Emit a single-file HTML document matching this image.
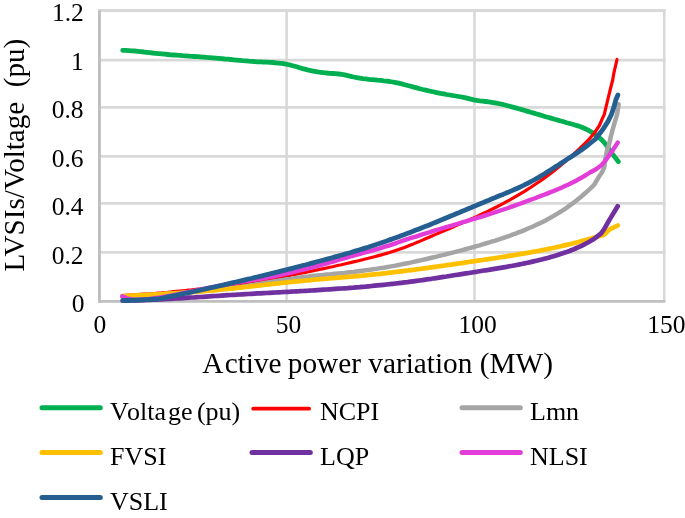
<!DOCTYPE html>
<html><head><meta charset="utf-8"><style>
html,body{margin:0;padding:0;background:#fff;}
body{width:685px;height:518px;overflow:hidden;}
svg{display:block;will-change:transform;}
text{font-family:"Liberation Serif",serif;fill:#000;}
</style></head><body>
<svg width="685" height="518" viewBox="0 0 685 518">
<rect width="685" height="518" fill="#fff"/>

<line x1="98" y1="10.5" x2="665.5" y2="10.5" stroke="#D9D9D9" stroke-width="2.8"/>
<line x1="98" y1="60.15" x2="665.5" y2="60.15" stroke="#D9D9D9" stroke-width="2.8"/>
<line x1="98" y1="107.4" x2="665.5" y2="107.4" stroke="#D9D9D9" stroke-width="2.8"/>
<line x1="98" y1="156.45" x2="665.5" y2="156.45" stroke="#D9D9D9" stroke-width="2.8"/>
<line x1="98" y1="203.35" x2="665.5" y2="203.35" stroke="#D9D9D9" stroke-width="2.8"/>
<line x1="98" y1="252.45" x2="665.5" y2="252.45" stroke="#D9D9D9" stroke-width="2.8"/>
<line x1="286.6" y1="9" x2="286.6" y2="300" stroke="#D9D9D9" stroke-width="2.6"/>
<line x1="474.5" y1="9" x2="474.5" y2="300" stroke="#D9D9D9" stroke-width="2.6"/>
<line x1="664.25" y1="9" x2="664.25" y2="300" stroke="#D9D9D9" stroke-width="2.6"/>
<line x1="99.45" y1="10.6" x2="99.45" y2="302.7" stroke="#BFBFBF" stroke-width="2.9"/>
<line x1="98" y1="301.35" x2="665.5" y2="301.35" stroke="#BFBFBF" stroke-width="2.8"/>
<path d="M122.7,50.3 L125.7,50.4 L128.7,50.6 L131.7,50.8 L134.7,51.0 L137.7,51.3 L140.7,51.6 L143.7,52.0 L146.7,52.3 L149.7,52.6 L152.7,53.0 L155.7,53.3 L158.7,53.6 L161.7,53.9 L164.7,54.2 L167.7,54.5 L170.7,54.8 L173.7,55.0 L176.7,55.2 L179.7,55.4 L182.7,55.7 L185.7,55.9 L188.7,56.1 L191.7,56.3 L194.7,56.5 L197.7,56.7 L200.7,56.9 L203.7,57.1 L206.7,57.4 L209.7,57.6 L212.7,57.8 L215.7,58.1 L218.7,58.4 L221.7,58.7 L224.7,59.0 L227.7,59.2 L230.7,59.5 L233.7,59.8 L236.7,60.1 L239.7,60.4 L242.7,60.7 L245.7,60.9 L248.7,61.2 L251.7,61.4 L254.7,61.6 L257.7,61.8 L260.7,61.9 L263.7,62.1 L266.7,62.2 L269.7,62.4 L272.7,62.5 L275.7,62.8 L278.7,63.1 L281.7,63.4 L284.7,63.9 L287.7,64.5 L290.7,65.2 L293.7,66.0 L296.7,66.8 L299.7,67.7 L302.7,68.6 L305.7,69.4 L308.7,70.2 L311.7,70.8 L314.7,71.4 L317.7,71.9 L320.7,72.3 L323.7,72.7 L326.7,73.0 L329.7,73.3 L332.7,73.5 L335.7,73.7 L338.7,74.0 L341.7,74.4 L344.7,74.9 L347.7,75.6 L350.7,76.3 L353.7,77.0 L356.7,77.6 L359.7,78.1 L362.7,78.6 L365.7,78.9 L368.7,79.3 L371.7,79.6 L374.7,79.9 L377.7,80.2 L380.7,80.4 L383.7,80.8 L386.7,81.1 L389.7,81.5 L392.7,82.0 L395.7,82.6 L398.7,83.2 L401.7,83.9 L404.7,84.7 L407.7,85.5 L410.7,86.3 L413.7,87.1 L416.7,87.9 L419.7,88.7 L422.7,89.5 L425.7,90.2 L428.7,90.9 L431.7,91.5 L434.7,92.2 L437.7,92.8 L440.7,93.4 L443.7,93.9 L446.7,94.5 L449.7,95.0 L452.7,95.5 L455.7,96.0 L458.7,96.5 L461.7,97.0 L464.7,97.7 L467.7,98.4 L470.7,99.1 L473.7,99.8 L476.7,100.4 L479.7,100.9 L482.7,101.2 L485.7,101.5 L488.7,101.9 L491.7,102.3 L494.7,102.8 L497.7,103.4 L500.7,104.0 L503.7,104.7 L506.7,105.5 L509.7,106.3 L512.7,107.1 L515.7,107.9 L518.7,108.8 L521.7,109.6 L524.7,110.5 L527.7,111.4 L530.7,112.3 L533.7,113.1 L536.7,114.0 L539.7,114.9 L542.7,115.8 L545.7,116.7 L548.7,117.5 L551.7,118.4 L554.7,119.3 L557.7,120.1 L560.7,121.0 L563.7,121.8 L566.7,122.7 L569.7,123.5 L572.7,124.3 L575.7,125.2 L578.7,126.1 L581.7,127.2 L584.7,128.5 L587.7,129.9 L590.7,131.6 L593.7,133.5 L596.7,135.7 L598.5,137.2 L601.5,139.6 L605.4,143.8 L612.6,154.1 L618.3,161.6" fill="none" stroke="#00B050" stroke-width="4.8" stroke-linejoin="round" stroke-linecap="round"/>
<path d="M122.5,295.6 L125.5,295.4 L128.5,295.2 L131.5,295.0 L134.5,294.8 L137.5,294.6 L140.5,294.4 L143.5,294.2 L146.5,294.0 L149.5,293.8 L152.5,293.5 L155.5,293.3 L158.5,293.0 L161.5,292.8 L164.5,292.5 L167.5,292.3 L170.5,292.0 L173.5,291.7 L176.5,291.4 L179.5,291.1 L182.5,290.8 L185.5,290.5 L188.5,290.2 L191.5,289.9 L194.5,289.5 L197.5,289.2 L200.5,288.9 L203.5,288.5 L206.5,288.2 L209.5,287.8 L212.5,287.4 L215.5,287.1 L218.5,286.7 L221.5,286.3 L224.5,285.9 L227.5,285.5 L230.5,285.1 L233.5,284.6 L236.5,284.2 L239.5,283.8 L242.5,283.3 L245.5,282.9 L248.5,282.4 L251.5,282.0 L254.5,281.5 L257.5,281.0 L260.5,280.5 L263.5,280.0 L266.5,279.5 L269.5,279.0 L272.5,278.5 L275.5,278.0 L278.5,277.5 L281.5,276.9 L284.5,276.4 L287.5,275.8 L290.5,275.3 L293.5,274.7 L296.5,274.1 L299.5,273.5 L302.5,273.0 L305.5,272.4 L308.5,271.8 L311.5,271.1 L314.5,270.5 L317.5,269.9 L320.5,269.3 L323.5,268.6 L326.5,268.0 L329.5,267.3 L332.5,266.7 L335.5,266.0 L338.5,265.3 L341.5,264.7 L344.5,264.0 L347.5,263.3 L350.5,262.6 L353.5,261.9 L356.5,261.2 L359.5,260.5 L362.5,259.7 L365.5,259.0 L368.5,258.3 L371.5,257.5 L374.5,256.7 L377.5,255.9 L380.5,255.1 L383.5,254.2 L386.5,253.4 L389.5,252.5 L392.5,251.5 L395.5,250.6 L398.5,249.6 L401.5,248.5 L404.5,247.4 L407.5,246.3 L410.5,245.1 L413.5,243.9 L416.5,242.6 L419.5,241.4 L422.5,240.1 L425.5,238.8 L428.5,237.5 L431.5,236.2 L434.5,234.9 L437.5,233.6 L440.5,232.3 L443.5,231.1 L446.5,229.8 L449.5,228.5 L452.5,227.2 L455.5,225.9 L458.5,224.6 L461.5,223.3 L464.5,222.0 L467.5,220.7 L470.5,219.3 L473.5,218.0 L476.5,216.6 L479.5,215.2 L482.5,213.8 L485.5,212.4 L488.5,211.0 L491.5,209.5 L494.5,208.0 L497.5,206.5 L500.5,204.9 L503.5,203.3 L506.5,201.7 L509.5,200.1 L512.5,198.4 L515.5,196.7 L518.5,194.9 L521.5,193.1 L524.5,191.3 L527.5,189.4 L530.5,187.5 L533.5,185.5 L536.5,183.5 L539.5,181.5 L542.5,179.4 L545.5,177.2 L548.5,175.0 L551.5,172.7 L554.5,170.4 L557.5,168.0 L560.5,165.5 L563.5,163.0 L566.5,160.4 L569.5,157.8 L572.5,155.1 L575.5,152.4 L578.5,149.6 L581.5,146.7 L584.5,143.8 L587.5,140.8 L588.6,139.7 L594.4,133.0 L599.4,125.5 L602.0,119.4 L604.3,114.3 L606.0,107.1 L607.7,100.0 L610.4,89.0 L612.7,80.0 L613.8,73.4 L617.0,59.5" fill="none" stroke="#FF0000" stroke-width="3.2" stroke-linejoin="round" stroke-linecap="round"/>
<path d="M122.5,296.6 L125.5,296.5 L128.5,296.3 L131.5,296.2 L134.5,296.0 L137.5,295.8 L140.5,295.6 L143.5,295.5 L146.5,295.3 L149.5,295.1 L152.5,294.9 L155.5,294.7 L158.5,294.5 L161.5,294.3 L164.5,294.1 L167.5,293.8 L170.5,293.6 L173.5,293.4 L176.5,293.2 L179.5,293.0 L182.5,292.7 L185.5,292.5 L188.5,292.3 L191.5,292.0 L194.5,291.8 L197.5,291.5 L200.5,291.3 L203.5,291.0 L206.5,290.8 L209.5,290.5 L212.5,290.2 L215.5,289.9 L218.5,289.6 L221.5,289.3 L224.5,289.0 L227.5,288.6 L230.5,288.3 L233.5,287.9 L236.5,287.5 L239.5,287.1 L242.5,286.6 L245.5,286.2 L248.5,285.7 L251.5,285.2 L254.5,284.8 L257.5,284.3 L260.5,283.8 L263.5,283.3 L266.5,282.8 L269.5,282.3 L272.5,281.8 L275.5,281.3 L278.5,280.8 L281.5,280.3 L284.5,279.8 L287.5,279.3 L290.5,278.9 L293.5,278.4 L296.5,278.0 L299.5,277.6 L302.5,277.2 L305.5,276.8 L308.5,276.5 L311.5,276.1 L314.5,275.8 L317.5,275.5 L320.5,275.2 L323.5,274.9 L326.5,274.6 L329.5,274.4 L332.5,274.1 L335.5,273.8 L338.5,273.5 L341.5,273.2 L344.5,272.9 L347.5,272.5 L350.5,272.2 L353.5,271.9 L356.5,271.5 L359.5,271.1 L362.5,270.7 L365.5,270.3 L368.5,269.9 L371.5,269.5 L374.5,269.1 L377.5,268.6 L380.5,268.1 L383.5,267.7 L386.5,267.2 L389.5,266.6 L392.5,266.1 L395.5,265.6 L398.5,265.0 L401.5,264.4 L404.5,263.8 L407.5,263.2 L410.5,262.6 L413.5,261.9 L416.5,261.3 L419.5,260.6 L422.5,259.9 L425.5,259.2 L428.5,258.5 L431.5,257.8 L434.5,257.1 L437.5,256.4 L440.5,255.6 L443.5,254.9 L446.5,254.2 L449.5,253.4 L452.5,252.6 L455.5,251.9 L458.5,251.1 L461.5,250.3 L464.5,249.5 L467.5,248.6 L470.5,247.8 L473.5,247.0 L476.5,246.1 L479.5,245.3 L482.5,244.4 L485.5,243.5 L488.5,242.6 L491.5,241.7 L494.5,240.8 L497.5,239.8 L500.5,238.8 L503.5,237.8 L506.5,236.8 L509.5,235.8 L512.5,234.7 L515.5,233.6 L518.5,232.4 L521.5,231.3 L524.5,230.1 L527.5,228.8 L530.5,227.5 L533.5,226.2 L536.5,224.8 L539.5,223.4 L542.5,221.9 L545.5,220.4 L548.5,218.8 L551.5,217.1 L554.5,215.4 L557.5,213.6 L560.5,211.8 L563.5,209.8 L566.5,207.8 L569.5,205.7 L572.5,203.5 L575.5,201.2 L578.5,198.8 L581.5,196.4 L584.5,193.8 L587.5,191.1 L590.5,188.4 L593.5,185.5 L594.0,185.0 L599.1,176.5 L601.4,173.3 L604.3,167.5 L605.3,159.2 L606.8,151.4 L609.2,143.7 L610.7,137.0 L612.9,128.6 L615.0,121.4 L617.1,114.3 L618.6,104.3" fill="none" stroke="#A5A5A5" stroke-width="4.5" stroke-linejoin="round" stroke-linecap="round"/>
<path d="M122.5,296.2 L125.5,296.0 L128.5,295.9 L131.5,295.7 L134.5,295.6 L137.5,295.4 L140.5,295.2 L143.5,295.1 L146.5,294.9 L149.5,294.8 L152.5,294.6 L155.5,294.4 L158.5,294.3 L161.5,294.1 L164.5,293.9 L167.5,293.7 L170.5,293.5 L173.5,293.4 L176.5,293.2 L179.5,293.0 L182.5,292.8 L185.5,292.5 L188.5,292.3 L191.5,292.1 L194.5,291.9 L197.5,291.6 L200.5,291.4 L203.5,291.2 L206.5,290.9 L209.5,290.6 L212.5,290.4 L215.5,290.1 L218.5,289.8 L221.5,289.5 L224.5,289.2 L227.5,288.9 L230.5,288.6 L233.5,288.3 L236.5,288.0 L239.5,287.7 L242.5,287.3 L245.5,287.0 L248.5,286.7 L251.5,286.3 L254.5,286.0 L257.5,285.7 L260.5,285.3 L263.5,285.0 L266.5,284.7 L269.5,284.3 L272.5,284.0 L275.5,283.7 L278.5,283.3 L281.5,283.0 L284.5,282.7 L287.5,282.4 L290.5,282.0 L293.5,281.7 L296.5,281.4 L299.5,281.1 L302.5,280.8 L305.5,280.5 L308.5,280.3 L311.5,280.0 L314.5,279.7 L317.5,279.5 L320.5,279.2 L323.5,279.0 L326.5,278.7 L329.5,278.5 L332.5,278.2 L335.5,278.0 L338.5,277.7 L341.5,277.5 L344.5,277.2 L347.5,277.0 L350.5,276.7 L353.5,276.5 L356.5,276.2 L359.5,275.9 L362.5,275.6 L365.5,275.3 L368.5,275.0 L371.5,274.7 L374.5,274.4 L377.5,274.1 L380.5,273.8 L383.5,273.4 L386.5,273.1 L389.5,272.7 L392.5,272.4 L395.5,272.0 L398.5,271.7 L401.5,271.3 L404.5,270.9 L407.5,270.5 L410.5,270.2 L413.5,269.8 L416.5,269.4 L419.5,269.0 L422.5,268.6 L425.5,268.2 L428.5,267.8 L431.5,267.3 L434.5,266.9 L437.5,266.5 L440.5,266.1 L443.5,265.7 L446.5,265.2 L449.5,264.8 L452.5,264.4 L455.5,263.9 L458.5,263.5 L461.5,263.1 L464.5,262.6 L467.5,262.2 L470.5,261.7 L473.5,261.3 L476.5,260.9 L479.5,260.4 L482.5,260.0 L485.5,259.5 L488.5,259.1 L491.5,258.7 L494.5,258.2 L497.5,257.8 L500.5,257.3 L503.5,256.8 L506.5,256.4 L509.5,255.9 L512.5,255.4 L515.5,254.9 L518.5,254.4 L521.5,253.9 L524.5,253.4 L527.5,252.9 L530.5,252.4 L533.5,251.8 L536.5,251.3 L539.5,250.7 L542.5,250.1 L545.5,249.5 L548.5,248.9 L551.5,248.3 L554.5,247.7 L557.5,247.0 L560.5,246.3 L563.5,245.6 L566.5,244.9 L569.5,244.2 L572.5,243.5 L575.5,242.7 L578.5,241.9 L581.5,241.1 L584.5,240.3 L587.5,239.4 L588.3,239.2 L604.0,234.8 L609.7,229.4 L617.7,225.5" fill="none" stroke="#FFC000" stroke-width="4.7" stroke-linejoin="round" stroke-linecap="round"/>
<path d="M122.5,300.7 L125.5,300.6 L128.5,300.6 L131.5,300.5 L134.5,300.4 L137.5,300.3 L140.5,300.2 L143.5,300.1 L146.5,300.0 L149.5,299.8 L152.5,299.7 L155.5,299.6 L158.5,299.4 L161.5,299.3 L164.5,299.1 L167.5,299.0 L170.5,298.8 L173.5,298.6 L176.5,298.5 L179.5,298.3 L182.5,298.1 L185.5,297.9 L188.5,297.7 L191.5,297.5 L194.5,297.4 L197.5,297.2 L200.5,297.0 L203.5,296.8 L206.5,296.6 L209.5,296.4 L212.5,296.2 L215.5,296.0 L218.5,295.8 L221.5,295.6 L224.5,295.4 L227.5,295.2 L230.5,295.0 L233.5,294.8 L236.5,294.7 L239.5,294.5 L242.5,294.3 L245.5,294.1 L248.5,294.0 L251.5,293.8 L254.5,293.6 L257.5,293.4 L260.5,293.3 L263.5,293.1 L266.5,293.0 L269.5,292.8 L272.5,292.6 L275.5,292.5 L278.5,292.3 L281.5,292.2 L284.5,292.0 L287.5,291.8 L290.5,291.7 L293.5,291.5 L296.5,291.3 L299.5,291.2 L302.5,291.0 L305.5,290.8 L308.5,290.7 L311.5,290.5 L314.5,290.3 L317.5,290.1 L320.5,289.9 L323.5,289.7 L326.5,289.5 L329.5,289.3 L332.5,289.1 L335.5,288.9 L338.5,288.7 L341.5,288.5 L344.5,288.3 L347.5,288.1 L350.5,287.8 L353.5,287.6 L356.5,287.3 L359.5,287.1 L362.5,286.8 L365.5,286.6 L368.5,286.3 L371.5,286.0 L374.5,285.7 L377.5,285.4 L380.5,285.1 L383.5,284.8 L386.5,284.5 L389.5,284.2 L392.5,283.8 L395.5,283.5 L398.5,283.2 L401.5,282.8 L404.5,282.4 L407.5,282.1 L410.5,281.7 L413.5,281.3 L416.5,280.9 L419.5,280.5 L422.5,280.1 L425.5,279.6 L428.5,279.2 L431.5,278.8 L434.5,278.3 L437.5,277.9 L440.5,277.4 L443.5,276.9 L446.5,276.5 L449.5,276.0 L452.5,275.5 L455.5,275.0 L458.5,274.6 L461.5,274.1 L464.5,273.6 L467.5,273.2 L470.5,272.7 L473.5,272.2 L476.5,271.8 L479.5,271.3 L482.5,270.8 L485.5,270.3 L488.5,269.9 L491.5,269.4 L494.5,268.9 L497.5,268.4 L500.5,267.9 L503.5,267.4 L506.5,266.9 L509.5,266.3 L512.5,265.8 L515.5,265.2 L518.5,264.6 L521.5,264.0 L524.5,263.4 L527.5,262.8 L530.5,262.1 L533.5,261.4 L536.5,260.7 L539.5,260.0 L542.5,259.3 L545.5,258.5 L548.5,257.7 L551.5,256.8 L554.5,256.0 L557.5,255.1 L560.5,254.1 L563.5,253.1 L566.5,252.1 L569.5,251.0 L572.5,249.8 L575.5,248.5 L578.5,247.2 L581.5,245.8 L584.5,244.3 L587.5,242.7 L590.5,241.0 L593.5,239.2 L595.4,237.9 L601.1,233.4 L604.0,229.4 L609.7,219.4 L617.7,206.2" fill="none" stroke="#7030A0" stroke-width="4.7" stroke-linejoin="round" stroke-linecap="round"/>
<path d="M122.3,296.4 L127.0,298.3 L133.0,299.7 L136.0,299.7 L139.0,299.6 L142.0,299.4 L145.0,299.2 L148.0,299.0 L151.0,298.7 L154.0,298.3 L157.0,297.9 L160.0,297.5 L163.0,297.0 L166.0,296.5 L169.0,295.9 L172.0,295.4 L175.0,294.8 L178.0,294.2 L181.0,293.6 L184.0,293.0 L187.0,292.3 L190.0,291.7 L193.0,291.1 L196.0,290.5 L199.0,289.8 L202.0,289.2 L205.0,288.6 L208.0,288.0 L211.0,287.4 L214.0,286.8 L217.0,286.2 L220.0,285.7 L223.0,285.1 L226.0,284.5 L229.0,284.0 L232.0,283.5 L235.0,282.9 L238.0,282.4 L241.0,281.9 L244.0,281.4 L247.0,280.9 L250.0,280.5 L253.0,280.0 L256.0,279.5 L259.0,279.0 L262.0,278.5 L265.0,278.0 L268.0,277.4 L271.0,276.9 L274.0,276.3 L277.0,275.7 L280.0,275.0 L283.0,274.4 L286.0,273.7 L289.0,273.1 L292.0,272.4 L295.0,271.7 L298.0,270.9 L301.0,270.2 L304.0,269.5 L307.0,268.7 L310.0,267.9 L313.0,267.1 L316.0,266.3 L319.0,265.5 L322.0,264.7 L325.0,263.8 L328.0,263.0 L331.0,262.1 L334.0,261.3 L337.0,260.4 L340.0,259.5 L343.0,258.6 L346.0,257.8 L349.0,256.9 L352.0,256.0 L355.0,255.2 L358.0,254.3 L361.0,253.5 L364.0,252.7 L367.0,251.9 L370.0,251.1 L373.0,250.3 L376.0,249.4 L379.0,248.6 L382.0,247.7 L385.0,246.7 L388.0,245.8 L391.0,244.8 L394.0,243.8 L397.0,242.8 L400.0,241.7 L403.0,240.7 L406.0,239.7 L409.0,238.7 L412.0,237.7 L415.0,236.8 L418.0,235.8 L421.0,234.8 L424.0,233.9 L427.0,233.0 L430.0,232.1 L433.0,231.1 L436.0,230.2 L439.0,229.3 L442.0,228.4 L445.0,227.5 L448.0,226.7 L451.0,225.8 L454.0,224.9 L457.0,224.0 L460.0,223.1 L463.0,222.2 L466.0,221.3 L469.0,220.4 L472.0,219.5 L475.0,218.6 L478.0,217.7 L481.0,216.8 L484.0,215.8 L487.0,214.9 L490.0,213.9 L493.0,213.0 L496.0,212.0 L499.0,211.0 L502.0,210.0 L505.0,209.0 L508.0,208.0 L511.0,206.9 L514.0,205.9 L517.0,204.8 L520.0,203.7 L523.0,202.6 L526.0,201.5 L529.0,200.4 L532.0,199.3 L535.0,198.2 L538.0,197.0 L541.0,195.9 L544.0,194.8 L547.0,193.6 L550.0,192.4 L553.0,191.2 L556.0,190.0 L559.0,188.8 L562.0,187.5 L565.0,186.1 L568.0,184.7 L571.0,183.3 L574.0,181.8 L577.0,180.2 L580.0,178.5 L583.0,176.8 L586.0,175.0 L589.9,172.5 L596.0,169.2 L601.4,165.3 L605.3,160.7 L609.2,155.3 L613.0,149.9 L617.7,142.6" fill="none" stroke="#E23DD9" stroke-width="4.4" stroke-linejoin="round" stroke-linecap="round"/>
<path d="M123.2,300.5 L142.0,299.8 L158.0,299.0 L161.0,298.4 L164.0,297.8 L167.0,297.2 L170.0,296.5 L173.0,295.9 L176.0,295.3 L179.0,294.7 L182.0,294.0 L185.0,293.4 L188.0,292.8 L191.0,292.1 L194.0,291.5 L197.0,290.8 L200.0,290.2 L203.0,289.5 L206.0,288.8 L209.0,288.2 L212.0,287.5 L215.0,286.8 L218.0,286.2 L221.0,285.5 L224.0,284.8 L227.0,284.1 L230.0,283.4 L233.0,282.7 L236.0,282.0 L239.0,281.3 L242.0,280.6 L245.0,279.9 L248.0,279.2 L251.0,278.5 L254.0,277.7 L257.0,277.0 L260.0,276.3 L263.0,275.6 L266.0,274.8 L269.0,274.1 L272.0,273.3 L275.0,272.6 L278.0,271.9 L281.0,271.1 L284.0,270.3 L287.0,269.6 L290.0,268.8 L293.0,268.1 L296.0,267.3 L299.0,266.5 L302.0,265.7 L305.0,265.0 L308.0,264.2 L311.0,263.4 L314.0,262.6 L317.0,261.8 L320.0,261.0 L323.0,260.2 L326.0,259.4 L329.0,258.6 L332.0,257.8 L335.0,256.9 L338.0,256.1 L341.0,255.2 L344.0,254.4 L347.0,253.5 L350.0,252.7 L353.0,251.8 L356.0,250.9 L359.0,250.0 L362.0,249.1 L365.0,248.1 L368.0,247.2 L371.0,246.2 L374.0,245.2 L377.0,244.3 L380.0,243.3 L383.0,242.2 L386.0,241.2 L389.0,240.1 L392.0,239.1 L395.0,238.0 L398.0,236.9 L401.0,235.8 L404.0,234.7 L407.0,233.6 L410.0,232.4 L413.0,231.3 L416.0,230.1 L419.0,228.9 L422.0,227.7 L425.0,226.6 L428.0,225.4 L431.0,224.2 L434.0,222.9 L437.0,221.7 L440.0,220.5 L443.0,219.3 L446.0,218.0 L449.0,216.8 L452.0,215.6 L455.0,214.3 L458.0,213.1 L461.0,211.8 L464.0,210.6 L467.0,209.3 L470.0,208.1 L473.0,206.8 L476.0,205.6 L479.0,204.3 L482.0,203.1 L485.0,201.8 L488.0,200.6 L491.0,199.3 L494.0,198.1 L497.0,196.8 L500.0,195.6 L503.0,194.4 L506.0,193.1 L509.0,191.9 L512.0,190.6 L515.0,189.3 L518.0,188.0 L521.0,186.6 L524.0,185.2 L527.0,183.7 L530.0,182.1 L533.0,180.5 L536.0,178.8 L539.0,177.1 L542.0,175.3 L545.0,173.5 L548.0,171.6 L551.0,169.7 L554.0,167.8 L557.0,165.9 L560.0,163.9 L563.0,162.0 L566.0,160.1 L569.0,158.1 L572.0,156.2 L575.0,154.2 L578.0,152.2 L581.0,150.2 L584.0,148.0 L587.0,145.8 L588.1,145.0 L595.5,139.0 L600.5,132.6 L603.4,128.6 L608.0,121.4 L611.5,114.3 L613.9,107.1 L615.8,100.0 L617.9,95.0" fill="none" stroke="#255E91" stroke-width="4.8" stroke-linejoin="round" stroke-linecap="round"/>
<text x="83.8" y="21.35" font-size="25.5" text-anchor="end">1.2</text>
<text x="83.8" y="69.82" font-size="25.5" text-anchor="end">1</text>
<text x="83.5" y="118.29" font-size="25.5" text-anchor="end">0.8</text>
<text x="83.5" y="166.76" font-size="25.5" text-anchor="end">0.6</text>
<text x="83.5" y="215.23" font-size="25.5" text-anchor="end">0.4</text>
<text x="83.5" y="263.70" font-size="25.5" text-anchor="end">0.2</text>
<text x="84.5" y="312.17" font-size="25.5" text-anchor="end">0</text>
<text x="99.9" y="332.5" font-size="25.5" text-anchor="middle">0</text>
<text x="288.4" y="332.5" font-size="25.5" text-anchor="middle">50</text>
<text x="477.6" y="332.5" font-size="25.5" text-anchor="middle">100</text>
<text x="666.4" y="332.5" font-size="25.5" text-anchor="middle">150</text>
<text x="202.3" y="372.8" font-size="29.3" xml:space="preserve">A<tspan dx="1.2">ctive</tspan><tspan dx="-1.2"> power variation (MW)</tspan></text>
<text transform="translate(23.6,271.5) rotate(-90)" font-size="29.1" xml:space="preserve">LVSIs/Voltage  (pu)</text>
<line x1="42" y1="407.7" x2="100.3" y2="407.7" stroke="#00B050" stroke-width="5" stroke-linecap="round"/>
<text x="110" y="420.0" font-size="26" xml:space="preserve">V<tspan dx="1.6">olta</tspan><tspan dx="2">ge</tspan><tspan dx="-2.2"> (pu)</tspan></text>
<line x1="253.2" y1="408.7" x2="309.1" y2="408.7" stroke="#FF0000" stroke-width="3.8" stroke-linecap="round"/>
<text x="320" y="420.0" font-size="26">NCPI</text>
<line x1="462" y1="407.7" x2="520.3" y2="407.7" stroke="#A5A5A5" stroke-width="5" stroke-linecap="round"/>
<text x="530" y="420.0" font-size="26">Lmn</text>
<line x1="42" y1="452.6" x2="100.3" y2="452.6" stroke="#FFC000" stroke-width="5" stroke-linecap="round"/>
<text x="110" y="464.9" font-size="26">FVSI</text>
<line x1="252" y1="452.6" x2="310.3" y2="452.6" stroke="#7030A0" stroke-width="5" stroke-linecap="round"/>
<text x="320" y="464.9" font-size="26">LQP</text>
<line x1="462" y1="452.6" x2="520.3" y2="452.6" stroke="#E23DD9" stroke-width="5" stroke-linecap="round"/>
<text x="530" y="464.9" font-size="26">NLSI</text>
<line x1="42" y1="497.5" x2="100.3" y2="497.5" stroke="#255E91" stroke-width="5" stroke-linecap="round"/>
<text x="110" y="509.8" font-size="26">VSLI</text>
</svg></body></html>
